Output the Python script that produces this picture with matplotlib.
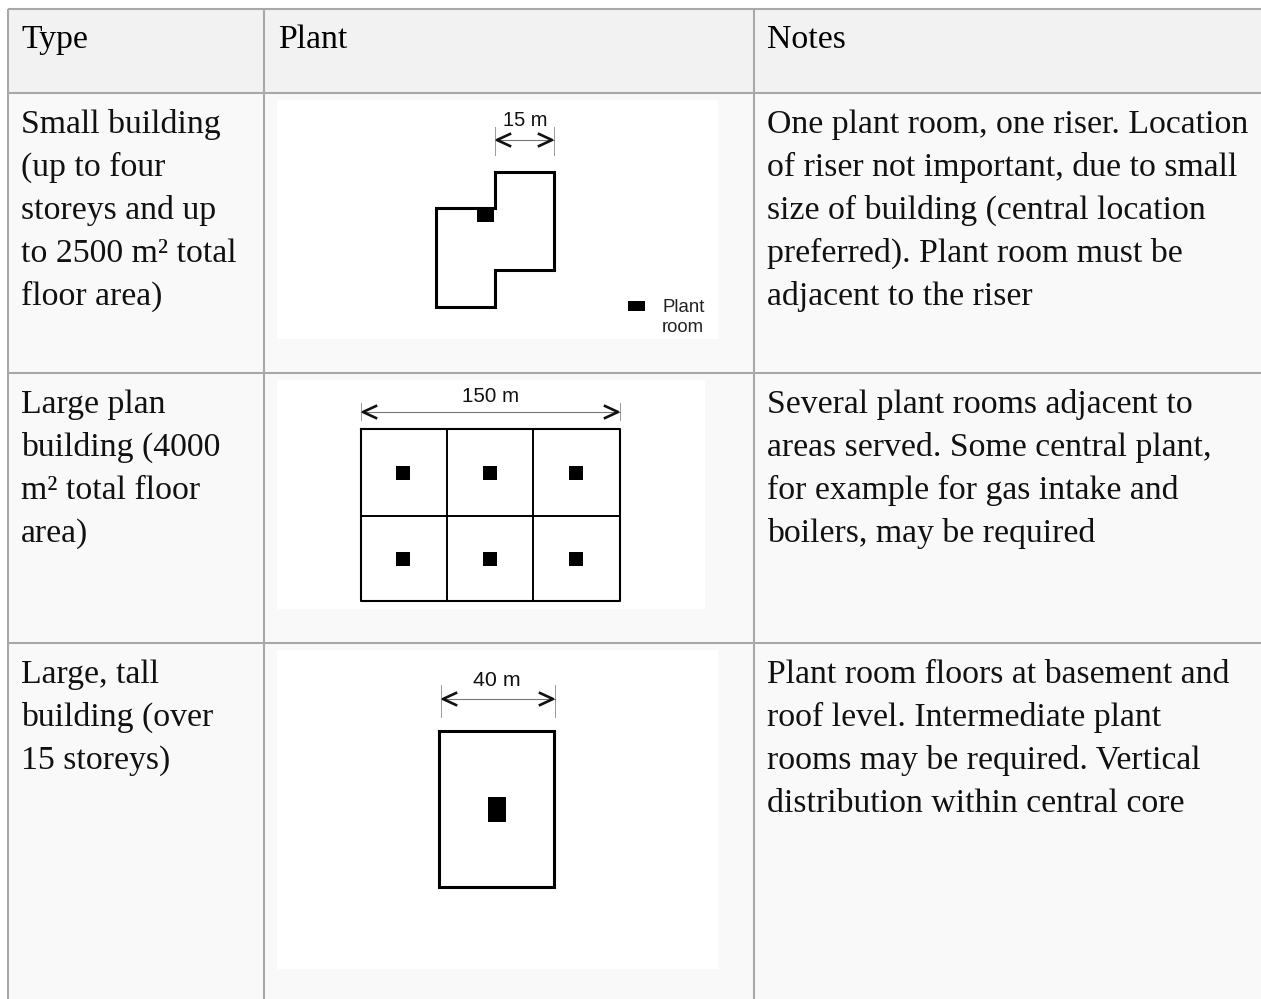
import matplotlib
matplotlib.use("Agg")
import matplotlib.pyplot as plt
from matplotlib.patches import Rectangle

headers = ["Type", "Plant", "Notes"]
type_lines = [
    ["Small building", "(up to four", "storeys and up", "to 2500 m² total", "floor area)"],
    ["Large plan", "building (4000", "m² total floor", "area)"],
    ["Large, tall", "building (over", "15 storeys)"],
]
notes_lines = [
    ["One plant room, one riser. Location", "of riser not important, due to small",
     "size of building (central location", "preferred). Plant room must be", "adjacent to the riser"],
    ["Several plant rooms adjacent to", "areas served. Some central plant,",
     "for example for gas intake and", "boilers, may be required"],
    ["Plant room floors at basement and", "roof level. Intermediate plant",
     "rooms may be required. Vertical", "distribution within central core"],
]
dim_labels = ["15 m", "150 m", "40 m"]

# table layout, in pixels
col_x = [8, 264, 754]
header_x = [21, 278, 767]
row_y = [9, 93, 373, 643]
first_baseline = [133, 413, 683]
line_h = 43
BORDER = "#a8a8a8"
FONT = "Liberation Serif"
DIAGRAM_FONT = "Liberation Sans"
TEXT_SIZE = 24.3


def dim_arrow(ax, x0, x1, y, y0, y1, label, lx, ly, size):
    ax.plot([x0, x0], [y0, y1], color="#999999", lw=0.7)
    ax.plot([x1, x1], [y0, y1], color="#999999", lw=0.7)
    ax.plot([x0, x1], [y, y], color="#777777", lw=0.8)
    ax.plot([x0 + 15, x0 + 2, x0 + 15], [y - 6, y, y + 6], color="#111111", lw=1.9)
    ax.plot([x1 - 15, x1 - 2, x1 - 15], [y - 6, y, y + 6], color="#111111", lw=1.9)
    ax.text(lx, ly, label, family=DIAGRAM_FONT, fontsize=size, color="#111111",
            ha="center", va="center")


def block(ax, x0, y0, x1, y1):
    ax.add_patch(Rectangle((x0, y0), x1 - x0, y1 - y0, fc="black", ec="none"))


fig = plt.figure(figsize=(12.61, 9.99), dpi=100)
ax = fig.add_axes([0, 0, 1, 1])
ax.set_xlim(0, 1261)
ax.set_ylim(999, 0)
ax.axis("off")

# cell backgrounds
ax.add_patch(Rectangle((8, 9), 1253, 84, fc="#f2f2f2", ec="none"))
ax.add_patch(Rectangle((8, 93), 1253, 906, fc="#f9f9f9", ec="none"))

# borders
for y in row_y:
    ax.plot([8, 1261], [y, y], color=BORDER, lw=1.5, solid_capstyle="butt")
for x in col_x:
    ax.plot([x, x], [9, 999], color=BORDER, lw=1.5, solid_capstyle="butt")

# text
for x, h in zip(header_x, headers):
    ax.text(x, 48, h, family=FONT, fontsize=TEXT_SIZE, color="black", va="baseline")
for base, lines in zip(first_baseline, type_lines):
    for i, s in enumerate(lines):
        ax.text(21, base + i * line_h, s, family=FONT, fontsize=TEXT_SIZE, color="#111111", va="baseline")
for base, lines in zip(first_baseline, notes_lines):
    for i, s in enumerate(lines):
        ax.text(767, base + i * line_h, s, family=FONT, fontsize=TEXT_SIZE, color="#111111", va="baseline")

# image backgrounds
ax.add_patch(Rectangle((277, 100), 441, 239, fc="white", ec="none"))
ax.add_patch(Rectangle((277, 380), 428, 229, fc="white", ec="none"))
ax.add_patch(Rectangle((277, 650), 441, 319, fc="white", ec="none"))

# small building
ax.plot([495, 554, 554, 495, 495, 436, 436, 495, 495],
        [172, 172, 270, 270, 307, 307, 208, 208, 172], color="black", lw=2.2, solid_joinstyle="miter")
block(ax, 477, 208, 494, 222)
block(ax, 628, 301, 645, 311)
dim_arrow(ax, 495, 554, 140, 127, 155, dim_labels[0], 525, 120, 14.4)
ax.text(662, 308, "Plant", family=DIAGRAM_FONT, fontsize=13.4, color="#222222", va="center")
ax.text(662, 327, "room", family=DIAGRAM_FONT, fontsize=13.4, color="#222222", va="center")

# large plan building
ax.plot([361, 620, 620, 361, 361], [429, 429, 601, 601, 429], color="black", lw=1.5)
ax.plot([361, 620], [516, 516], color="black", lw=1.4)
ax.plot([447, 447], [429, 601], color="black", lw=1.4)
ax.plot([533, 533], [429, 601], color="black", lw=1.4)
for cx in [403, 490, 576]:
    for cy in [473, 559]:
        block(ax, cx - 7, cy - 7, cx + 7, cy + 7)
dim_arrow(ax, 361, 620, 412, 403, 420, dim_labels[1], 491, 396, 14.8)

# large tall building
ax.plot([439, 554, 554, 439, 439], [731, 731, 887, 887, 731], color="black", lw=2.2, solid_joinstyle="miter")
block(ax, 488, 797, 506, 822)
dim_arrow(ax, 441, 555, 699, 685, 717, dim_labels[2], 497, 681, 15.4)

fig.savefig("out.png", dpi=100)
